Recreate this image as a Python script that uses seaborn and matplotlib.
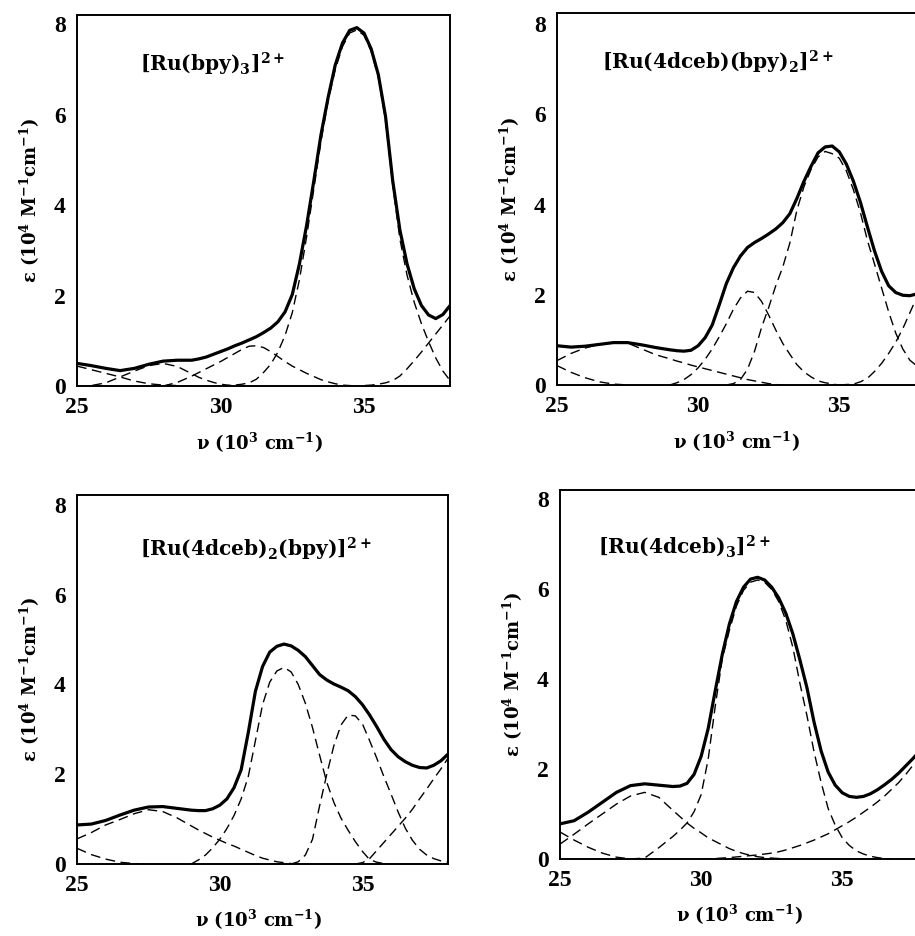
import matplotlib
matplotlib.use("Agg")
import matplotlib.pyplot as plt
from matplotlib.ticker import MultipleLocator
import pandas as pd
import seaborn as sns

# wavenumber grid (10^3 cm^-1) at which the curves were read off the figure
# (finer step where the spectra bend sharply)
nu = [25.0, 25.5, 26.0, 26.5, 27.0, 27.5, 28.0, 28.5,
      29.0, 29.25, 29.5, 29.75, 30.0, 30.25, 30.5, 30.75, 31.0, 31.25, 31.5, 31.75,
      32.0, 32.25, 32.5, 32.75, 33.0, 33.25, 33.5, 33.75, 34.0, 34.25, 34.5, 34.75,
      35.0, 35.25, 35.5, 35.75, 36.0, 36.25, 36.5, 36.75, 37.0, 37.25, 37.5, 37.75,
      38.0]

# --- [Ru(bpy)3]2+ ---
bpy3_total = [0.50, 0.45, 0.39, 0.34, 0.39, 0.48, 0.55, 0.57,
              0.57, 0.60, 0.64, 0.70, 0.76, 0.82, 0.89, 0.95, 1.02, 1.09, 1.18, 1.28,
              1.42, 1.64, 2.02, 2.70, 3.55, 4.53, 5.55, 6.38, 7.10, 7.58, 7.86, 7.92,
              7.80, 7.45, 6.88, 5.96, 4.54, 3.45, 2.70, 2.15, 1.78, 1.57, 1.49, 1.58,
              1.78]
bpy3_start = [25.0, 25.0, 28.0, 30.0, 34.5]
bpy3_bands = [
    [0.44, 0.36, 0.28, 0.20, 0.11, 0.05, 0.02, 0.01, 0.00],
    [0.00, 0.01, 0.07, 0.20, 0.33, 0.45, 0.50, 0.43, 0.27, 0.19, 0.13, 0.08, 0.04,
     0.02, 0.00],
    [0.00, 0.08, 0.22, 0.30, 0.38, 0.46, 0.54, 0.63, 0.72, 0.81, 0.88, 0.89, 0.85,
     0.76, 0.65, 0.54, 0.44, 0.36, 0.28, 0.21, 0.14, 0.09, 0.05, 0.02, 0.01, 0.00],
    [0.00, 0.01, 0.02, 0.04, 0.07, 0.15, 0.30, 0.48, 0.75, 1.12, 1.62, 2.35, 3.30,
     4.35, 5.40, 6.30, 7.00, 7.50, 7.80, 7.87, 7.75, 7.40, 6.82, 5.88, 4.45, 3.25,
     2.45, 1.85, 1.38, 0.98, 0.62, 0.33, 0.12],
    [0.00, 0.00, 0.01, 0.02, 0.04, 0.07, 0.12, 0.22, 0.38, 0.56, 0.75, 0.95, 1.15,
     1.35, 1.55],
]

# --- [Ru(4dceb)(bpy)2]2+ ---
dceb1_total = [0.87, 0.84, 0.86, 0.90, 0.94, 0.94, 0.89, 0.83,
               0.78, 0.76, 0.75, 0.77, 0.87, 1.05, 1.33, 1.78, 2.25, 2.60, 2.86, 3.05,
               3.16, 3.25, 3.35, 3.46, 3.60, 3.80, 4.14, 4.52, 4.85, 5.15, 5.28, 5.30,
               5.17, 4.90, 4.52, 4.05, 3.50, 2.97, 2.52, 2.20, 2.05, 1.99, 1.98, 2.02,
               2.10]
dceb1_start = [25.0, 25.0, 29.0, 31.0, 35.0]
dceb1_bands = [
    [0.43, 0.28, 0.16, 0.07, 0.02, 0.00],
    [0.54, 0.70, 0.82, 0.90, 0.94, 0.93, 0.80, 0.67, 0.58, 0.53, 0.49, 0.44, 0.40,
     0.36, 0.32, 0.28, 0.24, 0.20, 0.16, 0.12, 0.09, 0.06, 0.03, 0.01, 0.00],
    [0.00, 0.05, 0.12, 0.23, 0.38, 0.57, 0.80, 1.07, 1.36, 1.68, 1.93, 2.08, 2.05,
     1.85, 1.55, 1.22, 0.92, 0.68, 0.45, 0.29, 0.18, 0.09, 0.05, 0.02, 0.00],
    [0.00, 0.03, 0.12, 0.35, 0.75, 1.28, 1.72, 2.20, 2.62, 3.15, 3.88, 4.40, 4.78,
     5.06, 5.18, 5.13, 5.03, 4.75, 4.33, 3.82, 3.20, 2.68, 2.15, 1.62, 1.15, 0.80,
     0.55, 0.42, 0.32],
    [0.00, 0.01, 0.02, 0.07, 0.15, 0.30, 0.48, 0.70, 0.95, 1.25, 1.60, 1.95, 2.30],
]

# --- [Ru(4dceb)2(bpy)]2+ ---
dceb2_total = [0.87, 0.89, 0.97, 1.09, 1.20, 1.27, 1.28, 1.24,
               1.20, 1.19, 1.19, 1.23, 1.31, 1.45, 1.70, 2.10, 2.93, 3.85, 4.40, 4.72,
               4.85, 4.90, 4.86, 4.76, 4.62, 4.42, 4.22, 4.10, 4.01, 3.94, 3.86, 3.73,
               3.55, 3.32, 3.06, 2.78, 2.55, 2.39, 2.28, 2.20, 2.15, 2.14, 2.20, 2.30,
               2.45]
dceb2_start = [25.0, 25.0, 29.0, 32.5, 34.75]
dceb2_bands = [
    [0.35, 0.21, 0.11, 0.04, 0.01, 0.00],
    [0.56, 0.70, 0.87, 0.99, 1.12, 1.21, 1.17, 1.03, 0.85, 0.76, 0.68, 0.60, 0.53,
     0.46, 0.40, 0.33, 0.26, 0.19, 0.13, 0.09, 0.05, 0.03, 0.01, 0.00],
    [0.00, 0.09, 0.20, 0.36, 0.55, 0.79, 1.08, 1.45, 1.95, 2.75, 3.55, 4.05, 4.30,
     4.38, 4.28, 4.00, 3.58, 3.04, 2.42, 1.82, 1.37, 1.02, 0.75, 0.50, 0.28, 0.10,
     0.04, 0.01, 0.00],
    [0.00, 0.05, 0.20, 0.55, 1.30, 2.00, 2.64, 3.10, 3.32, 3.30, 3.12, 2.75, 2.36,
     1.95, 1.56, 1.16, 0.80, 0.53, 0.33, 0.20, 0.12, 0.07, 0.04],
    [0.00, 0.03, 0.12, 0.30, 0.48, 0.66, 0.84, 1.02, 1.22, 1.45, 1.67, 1.90, 2.12,
     2.36],
]

# --- [Ru(4dceb)3]2+ ---
dceb3_total = [0.78, 0.85, 1.04, 1.26, 1.48, 1.63, 1.67, 1.64,
               1.61, 1.62, 1.68, 1.88, 2.28, 2.90, 3.74, 4.55, 5.22, 5.72, 6.04, 6.22,
               6.26, 6.20, 6.04, 5.80, 5.46, 5.00, 4.42, 3.80, 3.04, 2.40, 1.93, 1.64,
               1.47, 1.39, 1.37, 1.39, 1.45, 1.54, 1.65, 1.77, 1.91, 2.07, 2.23, 2.40,
               2.60]
dceb3_start = [25.0, 25.0, 27.5, 30.0]
dceb3_bands = [
    [0.60, 0.42, 0.26, 0.13, 0.04, 0.00],
    [0.33, 0.55, 0.78, 1.00, 1.22, 1.40, 1.48, 1.37, 1.08, 0.94, 0.80, 0.68, 0.58,
     0.47, 0.39, 0.31, 0.23, 0.17, 0.12, 0.08, 0.05, 0.03, 0.02, 0.01, 0.00],
    [0.00, 0.02, 0.25, 0.50, 0.64, 0.80, 1.05, 1.43, 2.22, 3.40, 4.45, 5.08, 5.62,
     5.97, 6.15, 6.20, 6.15, 5.99, 5.72, 5.30, 4.70, 3.90, 3.18, 2.38, 1.70, 1.12,
     0.75, 0.47, 0.30, 0.18, 0.11, 0.06, 0.03, 0.01, 0.00],
    [0.00, 0.005, 0.01, 0.02, 0.03, 0.045, 0.06, 0.075, 0.09, 0.11, 0.13, 0.16,
     0.20, 0.25, 0.30, 0.36, 0.42, 0.49, 0.56, 0.65, 0.74, 0.83, 0.93, 1.04, 1.15,
     1.27, 1.40, 1.55, 1.70, 1.88, 2.08, 2.28, 2.50],
]

titles = [r"[Ru(bpy)$_3$]$^{2+}$",
          r"[Ru(4dceb)(bpy)$_2$]$^{2+}$",
          r"[Ru(4dceb)$_2$(bpy)]$^{2+}$",
          r"[Ru(4dceb)$_3$]$^{2+}$"]


def band_frame(starts, bands):
    """Long-form table of the fitted Gaussian components of one spectrum."""
    frames = []
    for i, (x0, vals) in enumerate(zip(starts, bands)):
        k = nu.index(x0)
        frames.append(pd.DataFrame({"nu": nu[k:k + len(vals)], "eps": vals,
                                    "curve": f"band{i}"}))
    return pd.concat(frames, ignore_index=True)


sns.set_style("white")
plt.rcParams["font.family"] = ["DejaVu Serif"]
plt.rcParams["font.weight"] = "bold"
plt.rcParams["axes.labelweight"] = "bold"
plt.rcParams["mathtext.default"] = "regular"
plt.rcParams["text.color"] = "black"
plt.rcParams["axes.labelcolor"] = "black"
plt.rcParams["xtick.color"] = "black"
plt.rcParams["ytick.color"] = "black"
plt.rcParams["lines.solid_joinstyle"] = "round"
plt.rcParams["lines.dash_joinstyle"] = "round"

# panel layout: axes rect (fig fraction), y top, title anchor (data coords)
panels = [
    (bpy3_total, bpy3_start, bpy3_bands, [0.0842, 0.5876, 0.4077, 0.3964], 8.2, (27.2, 6.95)),
    (dceb1_total, dceb1_start, dceb1_bands, [0.6087, 0.5887, 0.4011, 0.3974], 8.25, (26.58, 7.0)),
    (dceb2_total, dceb2_start, dceb2_bands, [0.0842, 0.0769, 0.4055, 0.3942], 8.22, (27.2, 6.86)),
    (dceb3_total, dceb3_start, dceb3_bands, [0.6120, 0.0823, 0.4011, 0.3942], 8.2, (26.36, 6.79)),
]

fig = plt.figure(figsize=(9.15, 9.36), dpi=100)

for (total, starts, bands, rect, ytop, tpos), title in zip(panels, titles):
    ax = fig.add_axes(rect)

    df_bands = band_frame(starts, bands)
    df_total = pd.DataFrame({"nu": nu, "eps": total})

    sns.lineplot(data=df_bands, x="nu", y="eps", units="curve", estimator=None,
                 color="black", lw=1.0, linestyle=(0, (7, 4)), legend=False, ax=ax)
    sns.lineplot(data=df_total, x="nu", y="eps", estimator=None,
                 color="black", lw=2.3, legend=False, ax=ax)

    ax.set_xlim(25, 38)
    ax.set_ylim(0, ytop)
    ax.xaxis.set_major_locator(MultipleLocator(5))
    ax.xaxis.set_minor_locator(MultipleLocator(1))
    ax.yaxis.set_major_locator(MultipleLocator(2))
    ax.yaxis.set_minor_locator(MultipleLocator(1))
    ax.tick_params(which="both", direction="in", top=False, right=False,
                   width=1.1, color="black")
    ax.tick_params(which="major", length=7, pad=8, labelsize=17,
                   labelfontfamily="Liberation Serif")
    ax.tick_params(which="minor", length=5)
    for sp in ax.spines.values():
        sp.set_linewidth(1.4)
        sp.set_color("black")

    ax.set_xlabel(r"ν (10$^3$ cm$^{-1}$)", fontsize=13)
    ax.set_ylabel(r"ε (10$^4$ M$^{-1}$cm$^{-1}$)", fontsize=13)
    ax.xaxis.set_label_coords(0.49, -0.12)
    ax.yaxis.set_label_coords(-0.095, 0.5)

    ax.text(tpos[0], tpos[1], title, fontsize=14.5, ha="left", va="baseline")

fig.savefig("out.png", dpi=100)
